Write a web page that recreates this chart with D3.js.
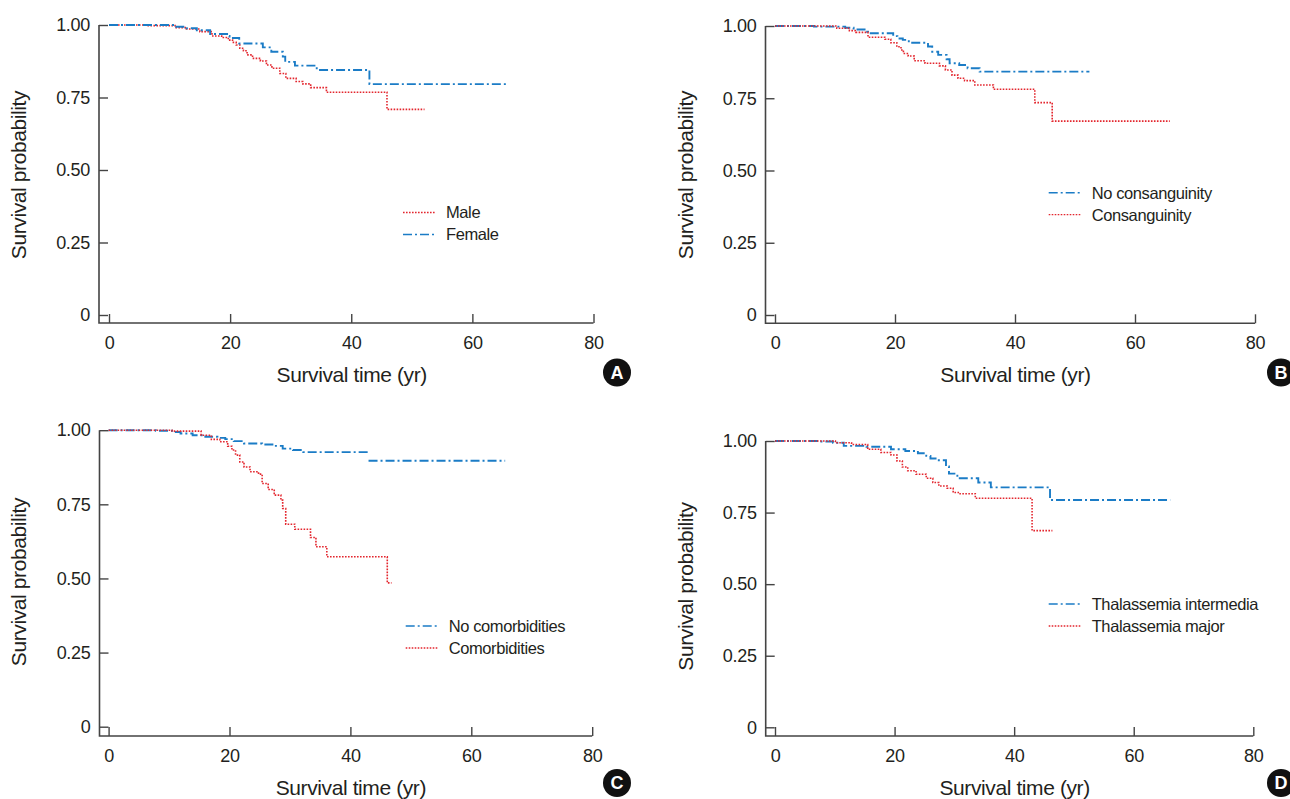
<!DOCTYPE html>
<html>
<head>
<meta charset="utf-8">
<script src="https://cdn.jsdelivr.net/npm/d3@7"></script>
<style>
  body { margin: 0; background: #fff; }
  text { font-family: "Liberation Sans", Arial, Helvetica, sans-serif; fill: #231f20; }
</style>
</head>
<body>
<div id="wrapper"></div>
<script>
// x ticks and y ticks shared by all four panels
const xTicks = [0, 20, 40, 60, 80]
const yTicks = [0, 0.25, 0.5, 0.75, 1]
const yTickLabels = ["0", "0.25", "0.50", "0.75", "1.00"]

// step points [time (yr), survival probability]
const maleA = [[0,1],[6.2,0.998],[10.9,0.991],[12.8,0.986],[15,0.977],[17,0.962],[18.6,0.957],[19.7,0.948],[20.4,0.94],[21.0,0.931],[21.6,0.92],[22.2,0.911],[22.8,0.897],[23.7,0.885],[25,0.876],[26.0,0.862],[26.9,0.851],[28.2,0.833],[29.2,0.816],[30.9,0.805],[32.0,0.797],[33.3,0.784],[35.9,0.768],[45.9,0.709],[52.1,0.709]]
const femaleA = [[0,1],[11.1,0.994],[12.8,0.989],[14.5,0.982],[16.7,0.969],[19.5,0.962],[19.9,0.955],[21.5,0.936],[25.4,0.923],[26.8,0.908],[28.7,0.891],[29.1,0.873],[30.7,0.86],[34.3,0.845],[43.0,0.796],[66.0,0.796]]

const noConsB = [[0,1],[6.5,0.998],[11.7,0.994],[13.1,0.988],[15.2,0.98],[15.5,0.975],[19.7,0.965],[20.4,0.957],[21.3,0.952],[22.3,0.942],[25.5,0.929],[26.2,0.911],[27.2,0.9],[28.6,0.885],[29.1,0.871],[30.7,0.865],[32.1,0.854],[34.1,0.842],[52.4,0.842]]
const consB = [[0,1],[10.3,0.992],[12.4,0.984],[13.5,0.978],[15.5,0.961],[18.3,0.954],[19.3,0.942],[20.3,0.928],[21.0,0.917],[21.4,0.905],[22.2,0.896],[23.2,0.88],[25.0,0.871],[27.4,0.862],[28.4,0.848],[29.5,0.83],[30.5,0.819],[31.6,0.811],[33.3,0.796],[36.4,0.781],[43.3,0.735],[46.2,0.671],[65.8,0.671]]

// the no comorbidities curve shows a gap at ~43 yr instead of a vertical step
const noComC1 = [[0,1],[7.8,0.998],[10.5,0.994],[11.9,0.989],[13.9,0.983],[16,0.978],[18,0.974],[19.3,0.97],[20.7,0.963],[22.4,0.955],[25.4,0.952],[27.1,0.947],[28.8,0.938],[30.5,0.933],[32.2,0.926],[43.3,0.926]]
const noComC2 = [[43.0,0.897],[65.6,0.897]]
const comC = [[0,1],[10.5,0.997],[15.3,0.983],[17,0.969],[18.4,0.961],[19.7,0.946],[20.4,0.933],[21,0.916],[21.7,0.893],[22.4,0.876],[23.4,0.86],[24.8,0.852],[25.4,0.82],[26.4,0.8],[27.4,0.781],[28.5,0.764],[28.8,0.736],[29.3,0.683],[30.8,0.666],[33.4,0.638],[34.3,0.607],[36.1,0.573],[46.1,0.485],[46.8,0.485]]

const intermediaD = [[0,1],[7.3,0.998],[9.7,0.994],[11.5,0.983],[15.3,0.98],[19.4,0.971],[21.8,0.965],[23.9,0.957],[25.3,0.948],[26,0.939],[27.2,0.933],[28.6,0.911],[29.1,0.886],[30.5,0.87],[34,0.855],[36.1,0.838],[46,0.794],[66.1,0.794]]
const majorD = [[0,1],[10.1,0.994],[12.8,0.988],[15.5,0.971],[17.7,0.96],[19.4,0.951],[20.4,0.93],[21.3,0.909],[22.2,0.896],[23.6,0.884],[25.3,0.87],[26.4,0.855],[27.4,0.843],[28.8,0.835],[29.8,0.82],[30.8,0.816],[33.5,0.8],[43,0.687],[46.4,0.687]]

const RED = "#e3262e"
const BLUE = "#1b7cc6"

const styles = {
    red: { color: RED, width: 1.6, dash: "1.6,1.4" },
    blue: { color: BLUE, width: 1.9, dash: "9,3,2,3" }
}

// panel frames (pixels)
const panels = [
    { letter: "A", x0: 109, x80: 593.5, y0: 315, y1: 25, axisX: 99, axisY: 323,
      series: [{ name: "Male", parts: [maleA], st: "red" }, { name: "Female", parts: [femaleA], st: "blue" }],
      legend: { x: 403, y: 212.5 }, titleX: 26, titleY: 175, badge: [617, 372.5] },
    { letter: "B", x0: 775, x80: 1255, y0: 315, y1: 26, axisX: 765.5, axisY: 323.3,
      series: [{ name: "No consanguinity", parts: [noConsB], st: "blue" }, { name: "Consanguinity", parts: [consB], st: "red" }],
      legend: { x: 1048.7, y: 192.7 }, titleX: 693, titleY: 175, badge: [1281, 372.5] },
    { letter: "C", x0: 108.6, x80: 592.2, y0: 726.7, y1: 430.2, axisX: 99.5, axisY: 736,
      series: [{ name: "No comorbidities", parts: [noComC1, noComC2], st: "blue" }, { name: "Comorbidities", parts: [comC], st: "red" }],
      legend: { x: 405.7, y: 626 }, titleX: 26, titleY: 582, badge: [617, 783] },
    { letter: "D", x0: 775, x80: 1253.3, y0: 727.3, y1: 441, axisX: 765.7, axisY: 736,
      series: [{ name: "Thalassemia intermedia", parts: [intermediaD], st: "blue" }, { name: "Thalassemia major", parts: [majorD], st: "red" }],
      legend: { x: 1048.7, y: 604 }, titleX: 693, titleY: 586.5, badge: [1281, 783] }
]

const svg = d3.select("#wrapper")
    .append("svg")
    .attr("width", 1290)
    .attr("height", 799)

svg.append("rect").attr("width", 1290).attr("height", 799).attr("fill", "#fff")

panels.forEach(p => {
    const g = svg.append("g")
    const x = d3.scaleLinear().domain([0, 80]).range([p.x0, p.x80])
    const y = d3.scaleLinear().domain([0, 1]).range([p.y0, p.y1])

    // y axis, ticks pointing inward
    const yAxis = g.append("g")
        .attr("transform", `translate(${p.axisX},0)`)
        .call(d3.axisLeft(y).tickValues(yTicks).tickFormat((d, i) => yTickLabels[i])
            .tickSizeInner(-9).tickSizeOuter(0).tickPadding(9))
    yAxis.select(".domain").remove()

    const xAxis = g.append("g")
        .attr("transform", `translate(0,${p.axisY})`)
        .call(d3.axisBottom(x).tickValues(xTicks).tickSizeInner(-9).tickSizeOuter(0).tickPadding(13))
    xAxis.select(".domain").remove()

    g.selectAll(".tick line").attr("stroke", "#444").attr("stroke-width", 1.4)
    g.selectAll(".tick text").style("font-size", "18px").style("letter-spacing", "-0.3px").attr("fill", "#231f20")

    g.append("path")
        .attr("d", `M${p.axisX},${y(1)}V${p.axisY}H${x(80)}`)
        .attr("fill", "none")
        .attr("stroke", "#444")
        .attr("stroke-width", 1.6)

    // survival curves
    const line = d3.line()
        .x(d => x(d[0]))
        .y(d => y(d[1]))
        .curve(d3.curveStepAfter)

    p.series.forEach(s => {
        const st = styles[s.st]
        s.parts.forEach(part => {
            g.append("path")
                .datum(part)
                .attr("d", line)
                .attr("fill", "none")
                .attr("stroke", st.color)
                .attr("stroke-width", st.width)
                .attr("stroke-dasharray", st.dash)
        })
    })

    // legend
    p.series.forEach((s, i) => {
        const st = styles[s.st]
        const ly = p.legend.y + i * 22
        g.append("line")
            .attr("x1", p.legend.x).attr("x2", p.legend.x + 32)
            .attr("y1", ly).attr("y2", ly)
            .attr("stroke", st.color)
            .attr("stroke-width", st.width - 0.3)
            .attr("stroke-dasharray", st.dash)
        g.append("text")
            .attr("x", p.legend.x + 43)
            .attr("y", ly)
            .attr("dy", "0.36em")
            .style("font-size", "16.5px")
            .style("letter-spacing", "-0.4px")
            .text(s.name)
    })

    // axis titles
    g.append("text")
        .attr("transform", `translate(${p.titleX},${p.titleY}) rotate(-90)`)
        .attr("text-anchor", "middle")
        .style("font-size", "21px")
        .style("letter-spacing", "-0.4px")
        .text("Survival probability")

    g.append("text")
        .attr("x", (x(0) + x(80)) / 2 + 0.5)
        .attr("y", p.axisY + 59)
        .attr("text-anchor", "middle")
        .style("font-size", "21px")
        .style("letter-spacing", "-0.4px")
        .text("Survival time (yr)")

    // panel letter badge
    g.append("circle")
        .attr("cx", p.badge[0]).attr("cy", p.badge[1]).attr("r", 14)
        .attr("fill", "#111")
    g.append("text")
        .attr("x", p.badge[0]).attr("y", p.badge[1])
        .attr("dy", "0.36em")
        .attr("text-anchor", "middle")
        .style("font-size", "18px")
        .style("font-weight", "bold")
        .style("fill", "#fff")
        .text(p.letter)
})
</script>
</body>
</html>
